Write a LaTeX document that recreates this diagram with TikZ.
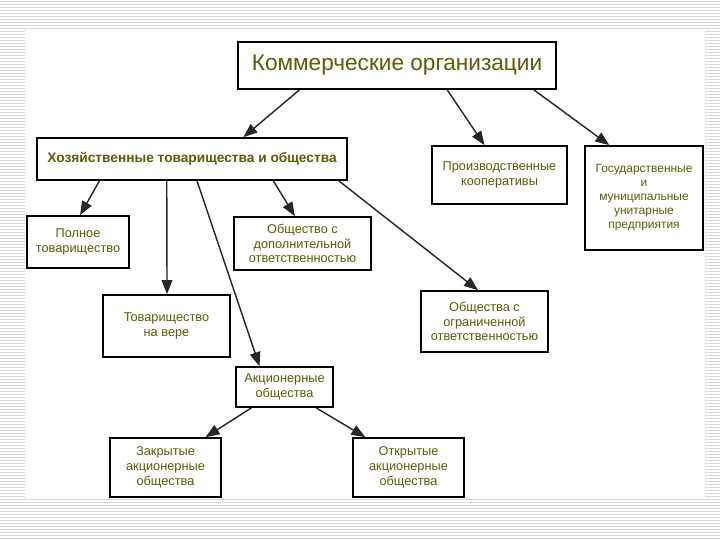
\documentclass[tikz,border=0pt]{standalone}
\usepackage{fontspec}
\setmainfont{Liberation Sans}
\usepackage{xcolor}
\usepackage{tikz}
\usetikzlibrary{arrows.meta,calc}
\definecolor{txt}{RGB}{92,92,8}

\begin{document}
\begin{tikzpicture}[>=Stealth,x=0.03cm,y=-0.03cm]
\tikzstyle{b}=[draw,line width=1.4pt,align=center,text=txt,inner sep=2pt,font=\fontsize{10.9}{12.6}\selectfont]
\tikzstyle{a}=[-{Triangle[length=4.2mm,width=3.2mm]},line width=1.2pt,draw=black!85,fill=black!85]
\useasboundingbox (0,0) rectangle (720,540);
% background stripes and panel
\foreach \y in {1,4,...,540} \draw[black!15,line width=0.8pt] (0,\y) -- (720,\y);
\fill[white] (25,29) rectangle (705,499);
% boxes
\node[b,minimum width=9.54cm,minimum height=1.41cm,font=\fontsize{19.3}{23}\selectfont] (ko) at (397,65.5) {Коммерческие организации};
\node[b,minimum width=9.3cm,minimum height=1.26cm,font=\bfseries\fontsize{11.7}{13}\selectfont] (ht) at (192,159) {Хозяйственные товарищества и общества};
\node[b,minimum width=4.05cm,minimum height=1.74cm] (pk) at (499.5,175) {Производственные\\кооперативы};
\node[b,minimum width=3.54cm,minimum height=3.12cm,font=\fontsize{10.2}{12}\selectfont] (gu) at (644,198) {Государственные\\и\\муниципальные\\унитарные\\предприятия};
\node[b,minimum width=3.06cm,minimum height=1.56cm] (pt) at (78,242) {Полное\\товарищество};
\node[b,minimum width=4.11cm,minimum height=1.59cm] (do) at (302.5,243.5) {Общество с\\дополнительной\\ответственностью};
\node[b,minimum width=3.81cm,minimum height=1.86cm] (tv) at (166.5,326) {Товарищество\\на вере};
\node[b,minimum width=3.81cm,minimum height=1.83cm] (oo) at (484.5,321.5) {Общества с\\ограниченной\\ответственностью};
\node[b,minimum width=2.91cm,minimum height=1.2cm] (ao) at (284.5,387) {Акционерные\\общества};
\node[b,minimum width=3.33cm,minimum height=1.77cm] (za) at (165.5,467.5) {Закрытые\\акционерные\\общества};
\node[b,minimum width=3.33cm,minimum height=1.77cm] (oa) at (408.5,467.5) {Открытые\\акционерные\\общества};
% arrows
\draw[a] ($(ko.south west)!.195!(ko.south east)$) -- ($(ht.north west)!.665!(ht.north east)$);
\draw[a] ($(ko.south west)!.657!(ko.south east)$) -- ($(pk.north west)!.39!(pk.north east)$);
\draw[a] ($(ko.south west)!.928!(ko.south east)$) -- ($(gu.north west)!.21!(gu.north east)$);
\draw[a] ($(ht.south west)!.203!(ht.south east)$) -- ($(pt.north west)!.52!(pt.north east)$);
\draw[a] ($(ht.south west)!.419!(ht.south east)$) -- ($(tv.north west)!.504!(tv.north east)$);
\draw[a] ($(ht.south west)!.516!(ht.south east)$) -- ($(ao.north west)!.247!(ao.north east)$);
\draw[a] ($(ht.south west)!.761!(ht.south east)$) -- ($(do.north west)!.445!(do.north east)$);
\draw[a] ($(ht.south west)!.971!(ht.south east)$) -- ($(oo.north west)!.449!(oo.north east)$);
\draw[a] ($(ao.south west)!.165!(ao.south east)$) -- ($(za.north west)!.856!(za.north east)$);
\draw[a] ($(ao.south west)!.82!(ao.south east)$) -- ($(oa.north west)!.117!(oa.north east)$);
\end{tikzpicture}
\end{document}
